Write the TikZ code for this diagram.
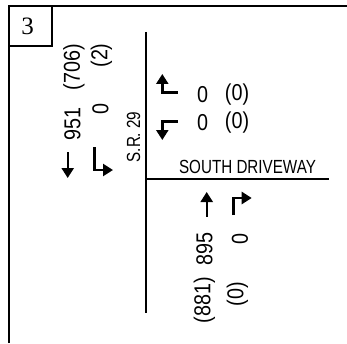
\documentclass[tikz,border=0pt]{standalone}
\usepackage{fontspec}
\usetikzlibrary{arrows.meta}
\newfontfamily\labelfont[FakeStretch=0.8]{Liberation Sans}
\newfontfamily\volfont[FakeStretch=0.86]{Liberation Sans}
\newfontfamily\boxfont{Liberation Serif}

\begin{document}
\begin{tikzpicture}[x=1pt, y=1pt,
      vol/.style={font=\volfont\fontsize{23}{23}\selectfont, inner sep=0pt},
      rvol/.style={vol, rotate=90},
      lbl/.style={font=\labelfont\fontsize{19}{19}\selectfont, inner sep=0pt},
      road/.style={line width=1.6pt},
      turn/.style={-{Triangle[width=12pt,length=10pt]}, line width=2.4pt}
    ]
      \useasboundingbox (0,0) rectangle (347,343);
      % frame and number box
      \draw[line width=2pt] (9,0) -- (9,337) -- (347,337);
      \draw[line width=1.5pt] (9,337) rectangle (52,297);
      \node[font=\boxfont\fontsize{25}{25}\selectfont, inner sep=0pt, anchor=base] (num) at (27.5,308) {3};

      % roads
      \draw[road] (146,311) -- (146,30);
      \draw[road] (146,164) -- (329,164);
      \node[lbl, rotate=90] (sr) at (133.5,206) {S.R. 29};
      \node[lbl, anchor=base] (drive) at (247.5,169.7) {SOUTH DRIVEWAY};

      % southbound
      \node[rvol] (sbthru)  at (72.5,219) {951};
      \node[rvol] (sbthrup) at (74,276) {(706)};
      \node[rvol] (sblt)    at (100.5,234) {0};
      \node[rvol] (sbltp)   at (101.5,287.5) {(2)};
      \draw[turn] (67.7,191) -- (67.7,165);
      \draw[turn] (94.3,196) -- (94.3,173) -- (113,173);

      % westbound
      \node[vol] (wblt)  at (202.5,248) {0};
      \node[vol] (wbltp) at (237,248) {(0)};
      \node[vol] (wbrt)  at (202.5,220.5) {0};
      \node[vol] (wbrtp) at (237,220.5) {(0)};
      \draw[turn] (177.5,250.3) -- (162.3,250.3) -- (162.3,269);
      \draw[turn] (177.5,221.3) -- (162.3,221.3) -- (162.3,203);

      % northbound
      \node[rvol] (nbthru)  at (204.5,94) {895};
      \node[rvol] (nbthrup) at (204.5,43) {(881)};
      \node[rvol] (nbrt)    at (240,104.5) {0};
      \node[rvol] (nbrtp)   at (237.5,49) {(0)};
      \draw[turn] (206.7,126.3) -- (206.7,151);
      \draw[turn] (233.3,128) -- (233.3,145) -- (251.7,145);
    \end{tikzpicture}
\end{document}
